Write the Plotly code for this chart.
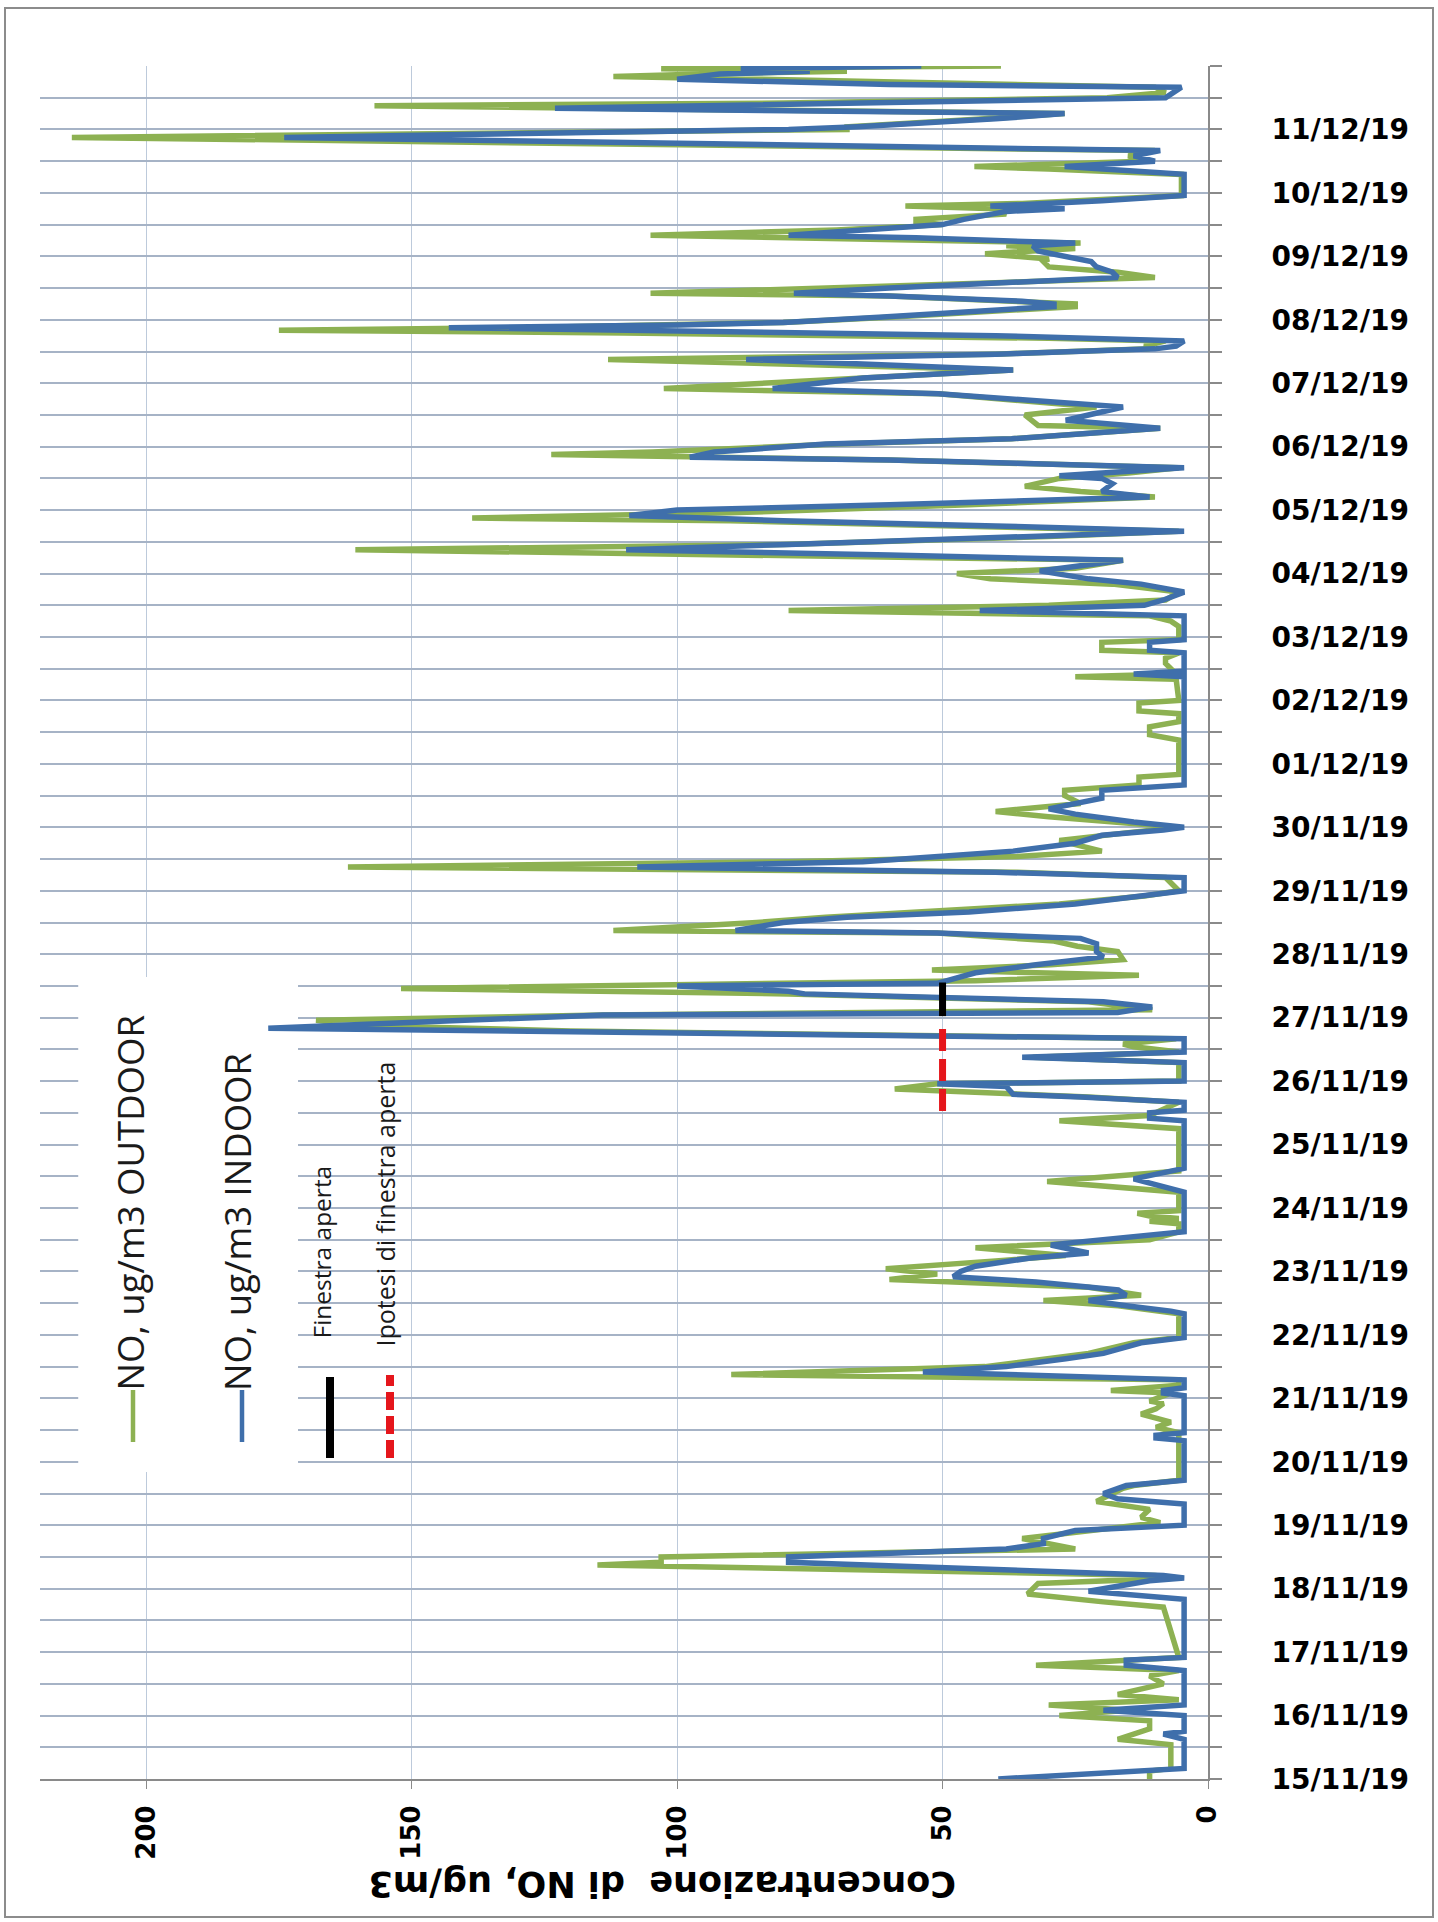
import pandas as pd
import plotly.graph_objects as go

# Hourly NO readings, 15/11/2019 00:00 onwards (hour offset, concentration in ug/m3)
start = pd.Timestamp("2019-11-15 00:00")

outdoor_hours = [0, 3, 4, 13, 15, 19, 22, 24, 26, 28, 30, 32, 36, 39, 41, 43, 46, 65, 67, 70, 74, 76, 77, 81, 82, 84,
                 87, 91, 97, 99, 102, 105, 108, 110, 111, 113, 131, 133, 135, 138, 140, 142, 143, 146, 147, 149, 151,
                 153, 156, 159, 161, 165, 167, 176, 179, 181, 183, 186, 188, 189, 191, 193, 196, 198, 201, 204, 207,
                 210, 211, 212, 213, 214, 215, 219, 222, 226, 230, 246, 249, 251, 256, 258, 261, 263, 264, 271, 273,
                 275, 277, 278, 280, 283, 285, 287, 289, 291, 292, 294, 297, 299, 302, 304, 306, 308, 310, 313, 315,
                 317, 320, 321, 324, 326, 331, 334, 336, 341, 343, 345, 347, 349, 351, 352, 355, 358, 360, 364, 366,
                 369, 372, 374, 376, 379, 380, 393, 395, 398, 400, 403, 404, 407, 408, 416, 417, 418, 422, 424, 426,
                 427, 430, 431, 436, 438, 440, 442, 444, 446, 449, 452, 454, 456, 458, 461, 463, 465, 467, 470, 472,
                 474, 476, 477, 479, 482, 485, 487, 489, 492, 494, 496, 499, 501, 502, 505, 507, 511, 512, 516, 519,
                 524, 526, 530, 533, 537, 539, 541, 542, 544, 545, 547, 548, 549, 551, 553, 555, 557, 558, 561, 562,
                 564, 566, 568, 570, 572, 574, 575, 577, 579, 580, 581, 582, 584, 586, 588, 589, 590, 592, 594, 595,
                 596, 599, 607, 609, 610, 612, 614, 616, 621, 624, 625, 628, 630, 633, 634, 636, 638, 640, 641, 643,
                 644, 645, 646, 647, 648]
outdoor_no = [11, 11, 7, 7, 17, 11, 11, 28, 15, 30, 5.5, 17, 8.4, 11, 5.5, 32.4, 5.5, 8.4, 19.7, 34, 32, 5.5, 10, 115,
              103, 103, 25, 35, 9, 12.6, 11, 21, 18, 16, 14, 5.5, 5.5, 9.8, 7, 12.6, 9.8, 8.4, 11, 7, 18.3, 5.5, 5.5,
              89.8, 42, 30, 22.5, 14, 5.5, 5.5, 16.9, 31, 12.6, 22.5, 51, 60, 51, 60.7, 40, 26.8, 43.8, 11, 5.5,
              5.5, 11, 5.5, 11, 13.3, 5.5, 5.5, 5.5, 30.3, 5.5, 5.5, 28, 11, 5.5, 22.5, 59, 51, 5.5, 5.5, 33,
              5.5, 14, 16, 6, 120, 160, 168, 114, 10.5, 14, 22.5, 79, 152, 43.8, 13, 52, 29.6, 16, 17, 24.6,
              29, 51, 112, 85, 72, 28, 12, 5.5, 8, 36, 162, 79, 36, 20, 22, 28, 15, 5.5, 30, 40,
              24, 27, 27, 13, 13, 5.5, 5.5, 11, 11, 5.5, 5.5, 13, 13, 5.5, 6, 25, 6, 8, 8, 5.5,
              20, 20, 5.5, 5.5, 7, 11, 79, 30, 8, 5.5, 18, 41, 47.3, 25, 16, 80, 160.6, 80, 30, 5.5,
              45, 90, 138.6, 90, 45, 10, 24, 34.5, 28, 15, 5.5, 60, 123.7, 104.6, 70, 37, 9, 32, 34.5, 21,
              50.8, 102.5, 65, 36.7, 113, 40, 11, 12, 8, 30, 110, 175, 130, 80, 60, 42, 25, 25, 60, 105,
              70, 40, 10, 17, 30, 31, 30, 42, 25, 38, 24, 50, 105, 70, 50, 55, 55, 38, 40, 57,
              35, 5, 5, 30, 44, 12, 15, 10, 214, 68, 68, 42, 27, 157, 80, 19, 8, 10, 40, 85,
              112, 95, 68, 103, 39]

indoor_hours = [0, 4, 15, 17, 18, 24, 26, 28, 41, 43, 45, 46, 68, 71, 75, 76, 77, 82, 84, 87, 89, 91, 94, 96, 104, 106,
                108, 111, 113, 128, 129, 130, 131, 145, 146, 147, 148, 151, 154, 156, 159, 161, 165, 167, 176, 177,
                179, 181, 183, 185, 188, 190, 192, 194, 197, 199, 200, 202, 203, 205, 207, 222, 227, 231, 249, 250,
                252, 253, 256, 258, 259, 262, 263, 264, 271, 273, 275, 280, 284, 287, 289, 290, 292, 294, 297, 298,
                300, 301, 305, 308, 311, 313, 316, 318, 320, 321, 324, 326, 328, 331, 334, 336, 341, 343, 345, 347,
                349, 351, 354, 357, 359, 360, 362, 365, 367, 371, 374, 376, 417, 418, 419, 426, 427, 430, 431, 440,
                442, 444, 446, 449, 452, 454, 457, 461, 463, 465, 467, 470, 472, 474, 476, 478, 480, 482, 485, 487,
                490, 492, 493, 496, 499, 500, 502, 505, 507, 511, 514, 519, 524, 526, 530, 533, 537, 539, 541, 542,
                544, 546, 547, 549, 550, 551, 553, 555, 557, 558, 559, 561, 562, 564, 566, 568, 570, 572, 574, 576,
                578, 580, 581, 583, 584, 586, 588, 590, 592, 593, 594, 595, 597, 599, 607, 609, 610, 612, 614, 616,
                621, 624, 625, 628, 630, 632, 634, 636, 640, 641, 643, 645, 646, 647, 648]
indoor_no = [39.5, 4.5, 4.5, 8.4, 4.5, 4.5, 19.7, 4.5, 4.5, 15.4, 15.4, 4.5, 4.5, 22.5, 11, 4.5, 8.4, 79, 79, 38, 31,
             31, 25, 4.5, 4.5, 17, 19.7, 15.4, 4.5, 4.5, 9.8, 9.8, 4.5, 4.5, 8.4, 8.4, 4.5, 4.5, 53.7, 38, 26.8,
             19.7, 12.6, 4.5, 4.5, 7, 15.4, 22.5, 15.4, 16.9, 32.4, 48, 46.6, 43.8, 33.8, 22.5, 25, 29.6, 25,
             15.4, 4.5, 4.5, 14, 4.5, 4.5, 11, 11, 4.5, 4.5, 24, 36.7, 38, 51, 4.5, 4.5, 35, 4.5, 4.5, 177, 140,
             114, 17, 10.5, 19.7, 76, 79, 100, 51, 43.8, 32.4, 19.7, 21, 21, 24, 51, 89, 80, 68, 45, 25, 12, 4.5,
             4.5, 40, 107.5, 65, 50.8, 36.7, 25, 20, 8.4, 4.5, 14, 25, 30, 20, 20, 4.5, 4.5, 14, 4.5, 4.5, 11, 11,
             4.5, 4.5, 43, 12, 8.4, 4.5, 12.6, 22.5, 31.7, 16, 60, 109.6, 79, 30, 4.5, 40, 80, 109, 100, 60, 11,
             20, 18, 20, 28, 4.5, 60, 97.6, 93, 72, 37, 9, 26.8, 16, 50.8, 82, 65, 36.7, 87, 40, 10, 6, 4.5, 40,
             80, 143, 100, 80, 62, 45, 29, 29, 35, 60, 78, 60, 40, 17, 18, 21, 22, 27, 32, 33, 25, 55, 79, 65,
             50, 46, 40, 38, 27, 41, 20, 4.5, 4.5, 20, 27, 10, 14, 9, 174, 79, 66, 40, 27, 123, 60, 8, 5, 60,
             100, 92, 75, 88, 54]

# Window periods, marked at the 50 ug/m3 level
window_open_hours = [288.6, 301.3]
window_open_level = [50, 50]
window_guess_hours = [252.7, 286.1]
window_guess_level = [50, 50]

conc_ticks = [0, 50, 100, 150, 200]
day_ticks = pd.date_range("2019-11-15", "2019-12-12", freq="12h")
day_text = [d.strftime("%d/%m/%y") if (d.hour == 0 and d < day_ticks[-1]) else "" for d in day_ticks]

GREEN = "#8DB152"
BLUE = "#3F6FAB"
RED = "#E5161C"


def stamp(hours):
    return [start + pd.Timedelta(hours=h) for h in hours]


# Plot-area geometry in pixels
PL, PR, PT, PB = 40, 1208, 66, 1779


def px(x):
    return (x - PL) / (PR - PL)


def py(y):
    return (PB - y) / (PB - PT)


fig = go.Figure()
fig.add_trace(go.Scatter(x=outdoor_no, y=stamp(outdoor_hours), mode="lines",
                         line=dict(color=GREEN, width=5.5), name="NO, ug/m3 OUTDOOR"))
fig.add_trace(go.Scatter(x=indoor_no, y=stamp(indoor_hours), mode="lines",
                         line=dict(color=BLUE, width=5.5), name="NO, ug/m3 INDOOR"))
fig.add_trace(go.Scatter(x=window_open_level, y=stamp(window_open_hours), mode="lines",
                         line=dict(color="black", width=7), name="Finestra aperta"))
fig.add_trace(go.Scatter(x=window_guess_level, y=stamp(window_guess_hours), mode="lines",
                         line=dict(color=RED, width=7, dash="22px,8px"), name="Ipotesi di finestra aperta"))

shapes = [
    # legend backdrop over the grid, beneath the series
    dict(type="rect", xref="x", yref="y", x0=212.8, x1=171.4,
         y0=start + pd.Timedelta(hours=116.1), y1=start + pd.Timedelta(hours=303.4),
         fillcolor="white", line=dict(width=0), layer="between"),
    # outer frame
    dict(type="rect", xref="paper", yref="paper", x0=px(5), x1=px(1433), y0=py(1917), y1=py(8),
         line=dict(color="#8C8C8C", width=2), fillcolor="rgba(0,0,0,0)", layer="above"),
    # legend keys
    dict(type="line", xref="paper", yref="paper", x0=px(133), x1=px(133), y0=py(1442), y1=py(1390),
         line=dict(color=GREEN, width=4.5)),
    dict(type="line", xref="paper", yref="paper", x0=px(242), x1=px(242), y0=py(1442), y1=py(1390),
         line=dict(color=BLUE, width=4.5)),
    dict(type="line", xref="paper", yref="paper", x0=px(330), x1=px(330), y0=py(1458), y1=py(1377),
         line=dict(color="black", width=8)),
    dict(type="line", xref="paper", yref="paper", x0=px(390), x1=px(390), y0=py(1458), y1=py(1375),
         line=dict(color=RED, width=8, dash="18px,6px")),
]

legend_font = dict(family="Open Sans", color="#1a1a1a")
annotations = [
    dict(text="NO, ug/m3 OUTDOOR", x=px(129), y=py(1393), xref="paper", yref="paper", textangle=-90,
         xanchor="center", yanchor="bottom", showarrow=False, font=dict(size=36.5, **legend_font)),
    dict(text="NO, ug/m3 INDOOR", x=px(237), y=py(1393), xref="paper", yref="paper", textangle=-90,
         xanchor="center", yanchor="bottom", showarrow=False, font=dict(size=36.5, **legend_font)),
    dict(text="Finestra aperta", x=px(321), y=py(1341), xref="paper", yref="paper", textangle=-90,
         xanchor="center", yanchor="bottom", showarrow=False, font=dict(size=24.5, **legend_font)),
    dict(text="Ipotesi di finestra aperta", x=px(384), y=py(1349), xref="paper", yref="paper", textangle=-90,
         xanchor="center", yanchor="bottom", showarrow=False, font=dict(size=25, **legend_font)),
    dict(text="Concentrazione  di NO, ug/m3", x=px(662), y=py(1884), xref="paper", yref="paper", textangle=180,
         xanchor="center", yanchor="middle", showarrow=False,
         font=dict(family="DejaVu Sans", size=35, color="black", weight="bold")),
]

fig.update_layout(
    width=1438, height=1922,
    margin=dict(l=PL, r=1438 - PR, t=PT, b=1922 - PB),
    paper_bgcolor="white", plot_bgcolor="white",
    showlegend=False,
    shapes=shapes,
    annotations=annotations,
)

fig.update_xaxes(
    range=[220, 0], tickmode="array", tickvals=conc_ticks, ticktext=[str(v) for v in conc_ticks],
    tickangle=-90, tickfont=dict(family="DejaVu Sans", size=26, color="black", weight="bold"),
    showgrid=True, gridcolor="#BDCADB", gridwidth=1, zeroline=False,
    showline=True, linecolor="#8A8A8A", linewidth=2,
    ticks="outside", ticklen=8, tickcolor="#8A8A8A", ticklabelstandoff=6,
)
fig.update_yaxes(
    type="date", side="right",
    range=[start, start + pd.Timedelta(hours=648)],
    tickmode="array", tickvals=list(day_ticks), ticktext=day_text,
    tickfont=dict(family="DejaVu Sans", size=28, color="black", weight="bold"),
    showgrid=True, gridcolor="#A6B3C6", gridwidth=1.5, zeroline=False,
    showline=True, linecolor="#8A8A8A", linewidth=2,
    ticks="outside", ticklen=12, tickcolor="#8A8A8A", tickwidth=1.5, ticklabelstandoff=44,
)

fig.write_html("out.html")
